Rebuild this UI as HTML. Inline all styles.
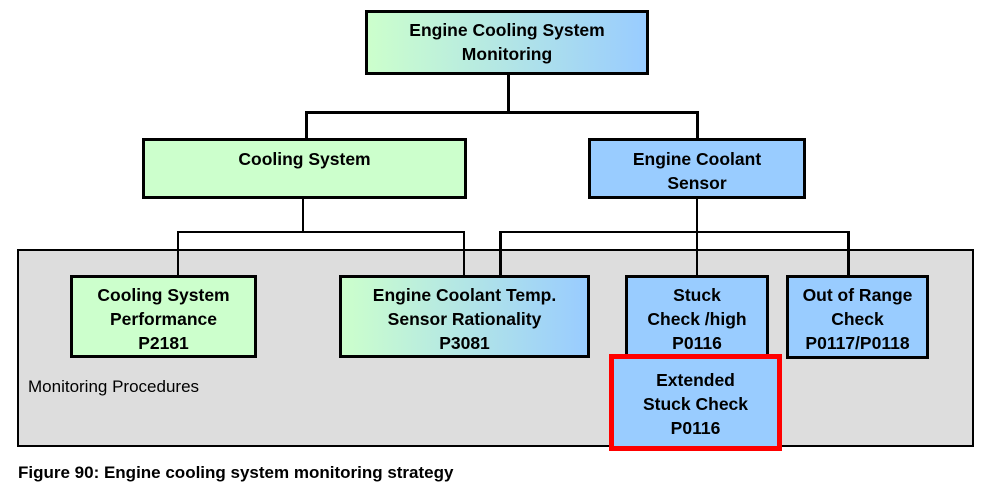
<!DOCTYPE html>
<html><head><style>
body{margin:0;width:996px;height:494px;background:#fff;position:relative;overflow:hidden;font-family:"Liberation Sans",Arial,sans-serif;}
.b{position:absolute;box-sizing:border-box;border:3px solid #000;text-align:center;font-weight:bold;font-size:17.5px;line-height:24px;color:#000;padding-top:5px;}
.g{background:#ccffcc}.bl{background:#99ccff}
.gr{background:linear-gradient(to right,#ccffcc,#99ccff)}
.l{position:absolute;background:#000}
</style></head><body>
<div style="position:absolute;left:17px;top:249px;width:957px;height:198px;box-sizing:border-box;border:2px solid #000;background:#dddddd"></div>
<!-- connectors -->
<div class="l" style="left:507px;top:75px;width:3px;height:38px"></div>
<div class="l" style="left:305px;top:111px;width:394px;height:3px"></div>
<div class="l" style="left:305px;top:111px;width:3px;height:28px"></div>
<div class="l" style="left:696px;top:111px;width:3px;height:28px"></div>
<div class="l" style="left:302px;top:198px;width:2px;height:35px"></div>
<div class="l" style="left:177px;top:231px;width:288px;height:2px"></div>
<div class="l" style="left:177px;top:231px;width:2px;height:45px"></div>
<div class="l" style="left:463px;top:231px;width:2px;height:45px"></div>
<div class="l" style="left:696px;top:198px;width:2px;height:78px"></div>
<div class="l" style="left:499px;top:231px;width:350px;height:2px"></div>
<div class="l" style="left:499px;top:231px;width:3px;height:45px"></div>
<div class="l" style="left:847px;top:231px;width:3px;height:45px"></div>
<!-- boxes -->
<div class="b gr" style="left:365px;top:10px;width:284px;height:65px;padding-top:5px">Engine Cooling System<br>Monitoring</div>
<div class="b g" style="left:142px;top:138px;width:325px;height:61px;padding-top:6px">Cooling System</div>
<div class="b bl" style="left:588px;top:138px;width:218px;height:61px;padding-top:6px">Engine Coolant<br>Sensor</div>
<div class="b g" style="left:70px;top:275px;width:187px;height:83px;padding-top:5px">Cooling System<br>Performance<br>P2181</div>
<div class="b gr" style="left:339px;top:275px;width:251px;height:83px;padding-top:5px">Engine Coolant Temp.<br>Sensor Rationality<br>P3081</div>
<div class="b bl" style="left:625px;top:275px;width:144px;height:83px;padding-top:5px">Stuck<br>Check /high<br>P0116</div>
<div class="b bl" style="left:786px;top:275px;width:143px;height:84px;padding-top:5px">Out of Range<br>Check<br>P0117/P0118</div>
<div class="b bl" style="left:609px;top:354px;width:173px;height:97px;border:5px solid #ff0000;padding-top:9px">Extended<br>Stuck Check<br>P0116</div>
<div style="position:absolute;left:28px;top:377px;font-size:17px;line-height:20px">Monitoring Procedures</div>
<div style="position:absolute;left:18px;top:463px;font-size:17px;font-weight:bold;line-height:20px">Figure 90: Engine cooling system monitoring strategy</div>
</body></html>
